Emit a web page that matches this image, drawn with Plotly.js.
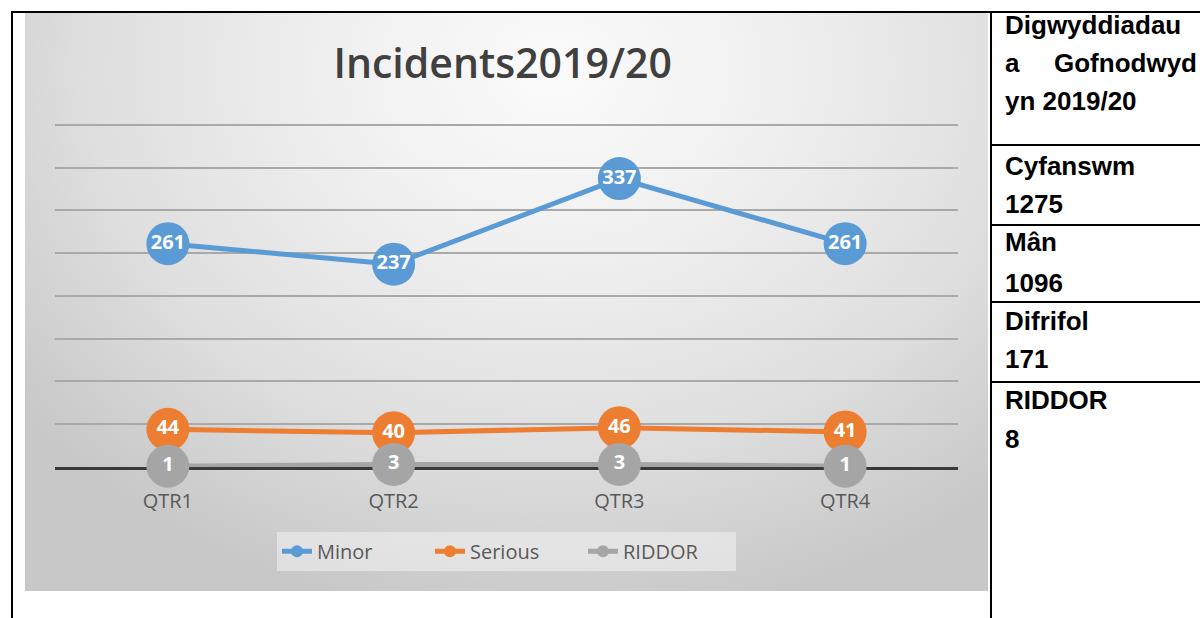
<!DOCTYPE html>
<html>
<head>
<meta charset="utf-8">
<script src="https://cdn.plot.ly/plotly-3.0.1.min.js"></script>
<style>
  html, body { margin: 0; padding: 0; background: #ffffff; }
  body { width: 1200px; height: 618px; position: relative; overflow: hidden; }
  .hline { position: absolute; height: 2px; background: #000; }
  .vline { position: absolute; width: 2px; background: #000; }
  #chartbg {
    position: absolute; left: 25px; top: 13px; width: 963px; height: 578px;
    background: radial-gradient(ellipse 70% 95% at 55% 10%, #fbfbfb 0%, #efefef 35%, #dedede 70%, #c8c8c8 100%);
  }
  #chart { position: absolute; left: 25px; top: 13px; width: 963px; height: 578px; }
  .cell {
    position: absolute; left: 1005px; height: 30px; line-height: 30px;
    font-family: "Liberation Sans", Arial, sans-serif; font-weight: bold; font-size: 26px;
    color: #000; white-space: nowrap;
  }
  .just { width: 192px; text-align: justify; text-align-last: justify; }
</style>
</head>
<body>
<div id="chartbg"></div>
<div id="chart"></div>

<div class="hline" style="left:11px; top:11px; width:1189px;"></div>
<div class="vline" style="left:11px; top:11px; height:607px;"></div>
<div class="vline" style="left:990px; top:11px; height:607px;"></div>
<div class="hline" style="left:990px; top:144px; width:210px;"></div>
<div class="hline" style="left:990px; top:224px; width:210px;"></div>
<div class="hline" style="left:990px; top:301px; width:210px;"></div>
<div class="hline" style="left:990px; top:381px; width:210px;"></div>

<div id="table"></div>

<script>
// ---- data ----
var categories = ["QTR1", "QTR2", "QTR3", "QTR4"];
var minorValues = [261, 237, 337, 261];
var seriousValues = [44, 40, 46, 41];
var riddorValues = [1, 3, 3, 1];
var seriesNames = ["Minor", "Serious", "RIDDOR"];
var chartTitle = "Incidents2019/20";

var tableLines = [
  "Digwyddiadau", "a Gofnodwyd", "yn 2019/20",
  "Cyfanswm", "1275",
  "Mân", "1096",
  "Difrifol", "171",
  "RIDDOR", "8"
];
var tableLineCenters = [25, 63, 101, 166, 204, 242, 283, 321, 359, 400, 439];

// ---- side table text ----
var tbl = document.getElementById('table');
tableLines.forEach(function (t, i) {
  var d = document.createElement('div');
  d.className = 'cell' + (i === 1 ? ' just' : '');
  d.style.top = (tableLineCenters[i] - 15) + 'px';
  d.textContent = t;
  tbl.appendChild(d);
});

// ---- chart ----
var colors = ["#5B9BD5", "#ED7D31", "#A5A5A5"];
var allValues = [minorValues, seriousValues, riddorValues];

var traces = allValues.map(function (vals, i) {
  return {
    type: 'scatter',
    mode: 'lines+markers+text',
    name: seriesNames[i],
    x: categories,
    y: vals,
    text: vals.map(String),
    textposition: 'middle center',
    textfont: { family: 'Open Sans', size: 20, color: '#ffffff', weight: 700 },
    line: { color: colors[i], width: 5 },
    marker: { color: colors[i], size: 43, line: { width: 0 } },
    cliponaxis: false,
    hoverinfo: 'skip'
  };
});

var layout = {
  width: 963,
  height: 578,
  margin: { l: 30, r: 30, t: 110, b: 124 },
  paper_bgcolor: 'rgba(0,0,0,0)',
  plot_bgcolor: 'rgba(0,0,0,0)',
  title: {
    text: chartTitle,
    x: 0.496, xanchor: 'center',
    y: 0.912, yanchor: 'middle',
    font: { family: 'Open Sans', size: 41, color: '#404040', weight: 600 }
  },
  xaxis: {
    type: 'category',
    range: [-0.5, 3.5],
    showgrid: false,
    showline: true,
    linecolor: '#3a3a3a',
    linewidth: 3,
    layer: 'below traces',
    ticks: '',
    ticklabelstandoff: 14,
    tickfont: { family: 'Open Sans', size: 20, color: '#595959' },
    fixedrange: true
  },
  yaxis: {
    range: [0, 402],
    tick0: 0,
    dtick: 50,
    showticklabels: false,
    showgrid: true,
    gridcolor: '#a9a9a9',
    gridwidth: 2,
    zeroline: false,
    showline: false,
    layer: 'below traces',
    ticks: '',
    fixedrange: true
  },
  showlegend: true,
  legend: {
    orientation: 'h',
    x: 0.5, xanchor: 'center',
    y: -0.188, yanchor: 'top',
    bgcolor: 'rgba(240,240,240,0.6)',
    font: { family: 'Open Sans', size: 20, color: '#595959' },
    itemsizing: 'constant',
    entrywidth: 108,
    entrywidthmode: 'pixels',
    itemclick: false,
    itemdoubleclick: false
  },
  hovermode: false
};

Plotly.newPlot('chart', traces, layout, { staticPlot: true, displayModeBar: false });
</script>
</body>
</html>
